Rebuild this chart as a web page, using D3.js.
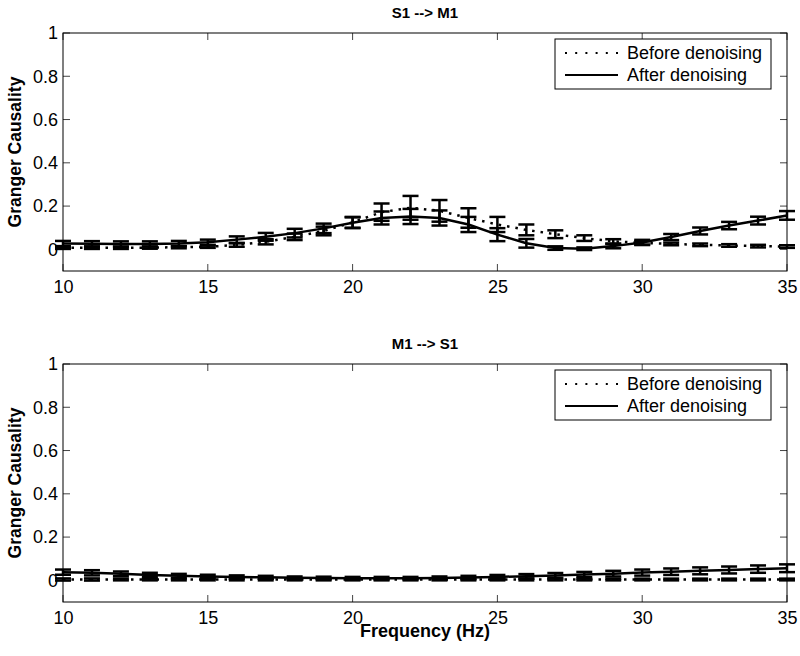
<!DOCTYPE html>
<html><head><meta charset="utf-8">
<script src="https://cdn.jsdelivr.net/npm/d3@7"></script>
<style>body{margin:0;background:#fff}svg{display:block}text{font-family:"Liberation Sans",Arial,sans-serif}</style>
</head><body><svg id="c" width="800" height="656"></svg>
<script>
const freqs = d3.range(10, 36);
const xTicks = [10, 15, 20, 25, 30, 35];
const yTicks = [0, 0.2, 0.4, 0.6, 0.8, 1];
const titles = ["S1 --> M1", "M1 --> S1"];
const legendLabels = ["Before denoising", "After denoising"];

const s1m1Before    = [0.007,0.007,0.007,0.008,0.010,0.012,0.020,0.035,0.058,0.085,0.125,0.172,0.192,0.178,0.145,0.115,0.090,0.070,0.052,0.037,0.030,0.025,0.021,0.018,0.015,0.013];
const s1m1BeforeErr = [0.005,0.005,0.005,0.005,0.005,0.005,0.008,0.012,0.015,0.020,0.025,0.040,0.055,0.050,0.045,0.035,0.025,0.018,0.013,0.010,0.008,0.006,0.006,0.006,0.006,0.006];
const s1m1After     = [0.027,0.026,0.025,0.025,0.027,0.033,0.045,0.058,0.075,0.097,0.123,0.145,0.152,0.145,0.115,0.068,0.028,0.006,0.003,0.015,0.032,0.057,0.085,0.110,0.133,0.157];
const s1m1AfterErr  = [0.012,0.012,0.012,0.012,0.012,0.012,0.015,0.018,0.020,0.022,0.025,0.030,0.035,0.035,0.035,0.030,0.020,0.008,0.006,0.010,0.012,0.014,0.016,0.017,0.018,0.020];

const m1s1Before    = [0.004,0.004,0.004,0.004,0.004,0.004,0.004,0.004,0.004,0.004,0.004,0.004,0.004,0.004,0.004,0.004,0.004,0.004,0.004,0.004,0.004,0.004,0.004,0.004,0.004,0.004];
const m1s1BeforeErr = [0.005,0.005,0.004,0.004,0.004,0.004,0.004,0.004,0.004,0.004,0.004,0.004,0.004,0.004,0.004,0.004,0.004,0.004,0.004,0.004,0.004,0.004,0.004,0.004,0.004,0.004];
const m1s1After     = [0.038,0.035,0.030,0.025,0.021,0.018,0.016,0.014,0.012,0.011,0.010,0.010,0.010,0.011,0.013,0.016,0.019,0.023,0.027,0.031,0.036,0.040,0.044,0.048,0.052,0.056];
const m1s1AfterErr  = [0.012,0.012,0.011,0.010,0.009,0.008,0.007,0.007,0.006,0.006,0.006,0.006,0.006,0.007,0.008,0.009,0.010,0.011,0.012,0.013,0.014,0.015,0.016,0.016,0.017,0.018];

const panels = [
  {title: titles[0], before: s1m1Before, beforeErr: s1m1BeforeErr, after: s1m1After, afterErr: s1m1AfterErr, top: 33, xlabel: false},
  {title: titles[1], before: m1s1Before, beforeErr: m1s1BeforeErr, after: m1s1After, afterErr: m1s1AfterErr, top: 364, xlabel: true}
];

const svg = d3.select("#c");
const L = 63, R = 787, H = 238;
const x = d3.scaleLinear().domain([10, 35]).range([L, R]);
const TL = 7, CAP = 8;

panels.forEach(p => {
  const y = d3.scaleLinear().domain([-0.1, 1]).range([p.top + H, p.top]);
  const g = svg.append("g");

  // axes
  const ax = g.append("g").attr("transform", `translate(0,${p.top + H})`)
    .call(d3.axisBottom(x).tickValues(xTicks).tickSize(0).tickPadding(9).tickFormat(d3.format("d")));
  ax.select(".domain").remove();
  ax.selectAll("text").attr("font-size", 18).attr("fill", "#000");
  const ay = g.append("g").attr("transform", `translate(${L},0)`)
    .call(d3.axisLeft(y).tickValues(yTicks).tickSize(0).tickPadding(5).tickFormat(d => d === 0 ? "0" : d === 1 ? "1" : d3.format(".1f")(d)));
  ay.select(".domain").remove();
  ay.selectAll("text").attr("font-size", 18).attr("fill", "#000");

  // tick marks inside, on all four sides
  const tk = g.append("g").attr("stroke", "#444").attr("stroke-width", 1);
  xTicks.forEach(t => {
    tk.append("line").attr("x1", x(t)).attr("x2", x(t)).attr("y1", p.top + H).attr("y2", p.top + H - TL);
    tk.append("line").attr("x1", x(t)).attr("x2", x(t)).attr("y1", p.top).attr("y2", p.top + TL);
  });
  yTicks.forEach(t => {
    tk.append("line").attr("x1", L).attr("x2", L + TL).attr("y1", y(t)).attr("y2", y(t));
    tk.append("line").attr("x1", R).attr("x2", R - TL).attr("y1", y(t)).attr("y2", y(t));
  });

  // series
  const drawSeries = (vals, errs, dash) => {
    const line = d3.line().x((d, i) => x(freqs[i])).y(d => y(d));
    g.append("path").datum(vals).attr("d", line).attr("fill", "none").attr("stroke", "#000")
      .attr("stroke-width", 2.5).attr("stroke-dasharray", dash);
    const eb = g.append("g").attr("stroke", "#000").attr("stroke-width", 2.5);
    vals.forEach((v, i) => {
      const cx = x(freqs[i]), y1 = y(v - errs[i]), y2 = y(v + errs[i]);
      eb.append("line").attr("x1", cx).attr("x2", cx).attr("y1", y1).attr("y2", y2);
      eb.append("line").attr("x1", cx - CAP).attr("x2", cx + CAP).attr("y1", y1).attr("y2", y1);
      eb.append("line").attr("x1", cx - CAP).attr("x2", cx + CAP).attr("y1", y2).attr("y2", y2);
    });
  };
  drawSeries(p.before, p.beforeErr, "2.5,6");
  drawSeries(p.after, p.afterErr, null);

  // frame
  g.append("rect").attr("x", L).attr("y", p.top).attr("width", R - L).attr("height", H)
    .attr("fill", "none").attr("stroke", "#000").attr("stroke-width", 1);

  // title
  g.append("text").attr("x", (L + R) / 2).attr("y", p.top - 15).attr("text-anchor", "middle")
    .attr("font-size", 15).attr("font-weight", "bold").text(p.title);

  // y label
  g.append("text").attr("transform", `translate(21,${p.top + H / 2}) rotate(-90)`)
    .attr("text-anchor", "middle").attr("font-size", 17.5).attr("font-weight", "bold").text("Granger Causality");

  if (p.xlabel) {
    g.append("text").attr("x", (L + R) / 2).attr("y", p.top + H + 35).attr("text-anchor", "middle")
      .attr("font-size", 18).attr("font-weight", "bold").text("Frequency (Hz)");
  }

  // legend
  const lg = g.append("g").attr("transform", `translate(555,${p.top + 6})`);
  lg.append("rect").attr("width", 216).attr("height", 50).attr("fill", "#fff").attr("stroke", "#000").attr("stroke-width", 1);
  [0, 1].forEach(k => {
    const ly = 14 + k * 22;
    lg.append("line").attr("x1", 10).attr("x2", 63).attr("y1", ly).attr("y2", ly)
      .attr("stroke", "#000").attr("stroke-width", 2.2).attr("stroke-dasharray", k === 0 ? "2,8.2" : null);
    lg.append("text").attr("x", 72).attr("y", ly + 6).attr("font-size", 18).text(legendLabels[k]);
  });
});
</script></body></html>
